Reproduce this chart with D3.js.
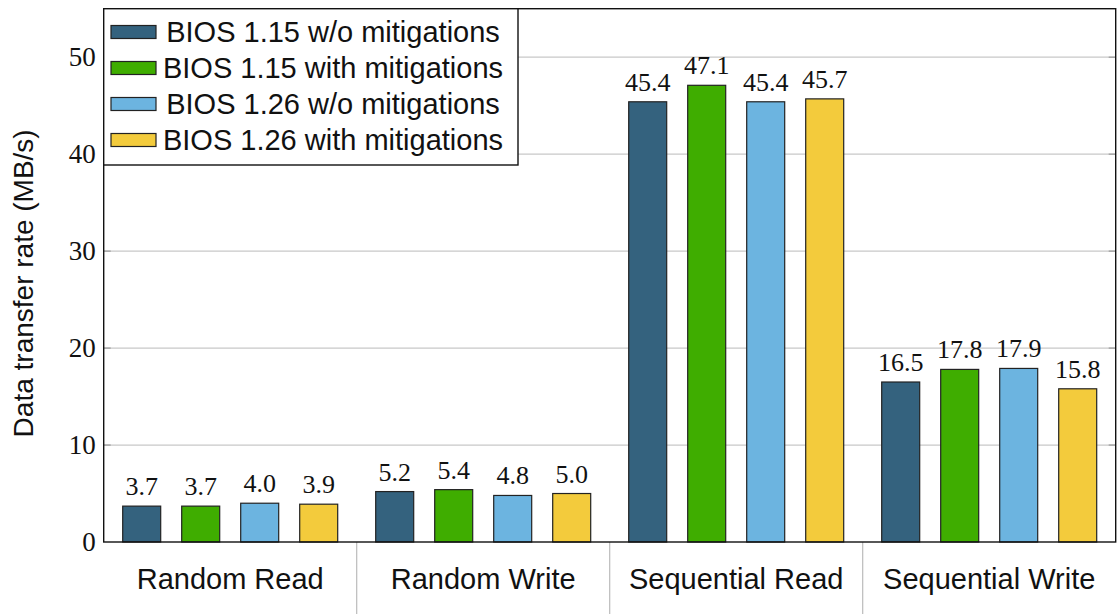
<!DOCTYPE html>
<html><head><meta charset="utf-8">
<script src="https://cdn.jsdelivr.net/npm/d3@7"></script>
<style>body{margin:0;background:#fff}svg{display:block}</style>
</head><body>
<svg id="c" width="1119" height="614"></svg>
<script>
const categories = ["Random Read", "Random Write", "Sequential Read", "Sequential Write"];
const seriesNames = ["BIOS 1.15 w/o mitigations", "BIOS 1.15 with mitigations", "BIOS 1.26 w/o mitigations", "BIOS 1.26 with mitigations"];
const bios115wo = [3.7, 5.2, 45.4, 16.5];
const bios115with = [3.7, 5.4, 47.1, 17.8];
const bios126wo = [4.0, 4.8, 45.4, 17.9];
const bios126with = [3.9, 5.0, 45.7, 15.8];
const colors = ["#34627e", "#3fad00", "#6cb4e0", "#f3cb3c"];
const yTicks = [0, 10, 20, 30, 40, 50];
const yLabel = "Data transfer rate (MB/s)";

const seriesValues = [bios115wo, bios115with, bios126wo, bios126with];
const svg = d3.select("#c");
const L = 103.7, R = 1115.7, T = 8.7, B = 542;
const x0 = d3.scaleBand().domain(categories).range([L, R]).padding(0);
const x1 = d3.scaleBand().domain(d3.range(4)).range([0, x0.bandwidth()]).paddingInner(0.356).paddingOuter(0.322);
const y = d3.scaleLinear().domain([0, 55]).range([B, T]);
const serif = "'Liberation Serif','DejaVu Serif',serif";
const sans = "'Liberation Sans',Arial,sans-serif";

// grid
svg.append("g").selectAll("line").data(yTicks.filter(d => d > 0)).join("line")
  .attr("x1", L).attr("x2", R).attr("y1", d => y(d)).attr("y2", d => y(d))
  .attr("stroke", "#c8c8c8").attr("stroke-width", 1.2);
// inner ticks
svg.append("g").selectAll("line").data(yTicks.filter(d => d > 0)).join("line")
  .attr("x1", L).attr("x2", L + 7).attr("y1", d => y(d)).attr("y2", d => y(d))
  .attr("stroke", "#999").attr("stroke-width", 1.2);
svg.append("g").selectAll("line").data(yTicks.filter(d => d > 0)).join("line")
  .attr("x1", R - 7).attr("x2", R).attr("y1", d => y(d)).attr("y2", d => y(d))
  .attr("stroke", "#999").attr("stroke-width", 1.2);

// y axis labels
const yAxis = d3.axisLeft(y).tickValues(yTicks).tickSize(0).tickPadding(8).tickFormat(d3.format("d"));
const ga = svg.append("g").attr("transform", `translate(${L},0)`).call(yAxis);
ga.select(".domain").remove();
ga.selectAll("text").attr("font-family", serif).attr("font-size", 27).attr("fill", "#111");

// separators
svg.append("g").selectAll("line").data(categories.slice(1)).join("line")
  .attr("x1", d => x0(d)).attr("x2", d => x0(d)).attr("y1", B).attr("y2", 614)
  .attr("stroke", "#bbb").attr("stroke-width", 1.2);

// category labels
const xAxis = d3.axisBottom(x0).tickSize(0).tickPadding(26);
const gx = svg.append("g").attr("transform", `translate(0,${B})`).call(xAxis);
gx.select(".domain").remove();
gx.selectAll("text").attr("font-family", sans).attr("font-size", 29).attr("fill", "#111");

// bars
const groups = svg.append("g").selectAll("g").data(categories).join("g")
  .attr("transform", d => `translate(${x0(d)},0)`);
groups.selectAll("rect").data((c, ci) => seriesValues.map((s, si) => ({si, v: s[ci]}))).join("rect")
  .attr("x", d => x1(d.si)).attr("width", x1.bandwidth())
  .attr("y", d => y(d.v)).attr("height", d => y(0) - y(d.v))
  .attr("fill", d => colors[d.si]).attr("stroke", "#222").attr("stroke-width", 1.2);
groups.selectAll("text").data((c, ci) => seriesValues.map((s, si) => ({si, v: s[ci]}))).join("text")
  .attr("x", d => x1(d.si) + x1.bandwidth() / 2).attr("y", d => y(d.v) - 11)
  .attr("text-anchor", "middle").attr("font-family", serif).attr("font-size", 26).attr("fill", "#111")
  .text(d => d3.format(".1f")(d.v));

// frame
svg.append("rect").attr("x", L).attr("y", T).attr("width", R - L).attr("height", B - T)
  .attr("fill", "none").attr("stroke", "#111").attr("stroke-width", 1.4);

// legend
const lg = svg.append("g");
lg.append("rect").attr("x", L).attr("y", T).attr("width", 518 - L).attr("height", 165 - T)
  .attr("fill", "#fff").attr("stroke", "#111").attr("stroke-width", 1.4);
const rows = lg.selectAll("g").data(seriesNames).join("g")
  .attr("transform", (d, i) => `translate(0,${32 + i * 36})`);
rows.append("rect").attr("x", 111).attr("y", -6.5).attr("width", 45).attr("height", 13)
  .attr("fill", (d, i) => colors[i]).attr("stroke", "#222").attr("stroke-width", 1.2);
rows.append("text").attr("x", 333).attr("y", 10).attr("text-anchor", "middle")
  .attr("font-family", sans).attr("font-size", 29).attr("fill", "#111").text(d => d);

// y label
svg.append("text").attr("transform", `translate(33,${(T + B) / 2 + 8}) rotate(-90)`)
  .attr("text-anchor", "middle").attr("font-family", sans).attr("font-size", 28).attr("fill", "#111")
  .text(yLabel);
</script>
</body></html>
